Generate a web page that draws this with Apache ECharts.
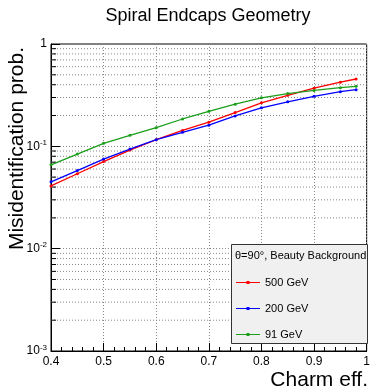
<!DOCTYPE html>
<html>
<head>
<meta charset="utf-8">
<script src="https://cdn.jsdelivr.net/npm/echarts@6/dist/echarts.min.js"></script>
<style>
  html, body { margin: 0; padding: 0; background: #fff; }
  #chart { width: 373px; height: 392px; }
</style>
</head>
<body>
<div id="chart"></div>
<script>
// charm efficiency (x) and misidentification probability for beauty background
const charmEff = [0.40, 0.45, 0.50, 0.55, 0.60, 0.65, 0.70, 0.75, 0.80, 0.85, 0.90, 0.95, 0.98];
const misid500 = [0.041, 0.054, 0.071, 0.092, 0.116, 0.143, 0.172, 0.214, 0.266, 0.315, 0.370, 0.424, 0.455];
const misid200 = [0.045, 0.058, 0.075, 0.094, 0.116, 0.137, 0.161, 0.198, 0.238, 0.272, 0.308, 0.342, 0.358];
const misid91  = [0.066, 0.084, 0.107, 0.128, 0.152, 0.185, 0.220, 0.258, 0.298, 0.328, 0.352, 0.374, 0.386];
const seriesNames = ['500 GeV', '200 GeV', '91 GeV'];
const xTicks = ['0.4', '0.5', '0.6', '0.7', '0.8', '0.9', '1'];

// log minor ticks 2..9 in each decade
const minorY = [];
[0.001, 0.01, 0.1].forEach(d => {
    for (let k = 2; k <= 9; k++) minorY.push(d * k);
});

const font = 'Liberation Sans, Arial, Helvetica, sans-serif';
// line with a small marker in the middle, like the ROOT legend entries
const legendIcon = 'path://M0,3 H48 V5 H0 Z M21,1 H27 V7 H21 Z';

function pairs(ys) {
    return charmEff.map((x, i) => [x, ys[i]]);
}

function lineSeries(name, ys, color) {
    return {
        name: name,
        type: 'line',
        data: pairs(ys),
        symbol: 'circle',
        symbolSize: 3,
        showSymbol: true,
        lineStyle: { color: color, width: 1.3 },
        itemStyle: { color: color },
        z: 5
    };
}

const chart = echarts.init(document.getElementById('chart'), null, { renderer: 'canvas' });

const option = {
    animation: false,
    backgroundColor: '#fff',
    grid: {
        left: 51, right: 5, top: 44, bottom: 41,
        show: true, borderColor: '#000', borderWidth: 1, backgroundColor: 'transparent'
    },
    xAxis: {
        type: 'value',
        min: 0.4, max: 1, interval: 0.1,
        axisLine: { show: true, lineStyle: { color: '#000' } },
        axisTick: { inside: true, length: 8, lineStyle: { color: '#000' } },
        minorTick: { show: true, splitNumber: 5, length: 4, lineStyle: { color: '#000' } },
        splitLine: { show: true, lineStyle: { color: '#888', type: [1, 2] } },
        axisLabel: {
            color: '#000', fontFamily: font, fontSize: 12, margin: 5,
            formatter: v => xTicks[Math.round((v - 0.4) * 10)] || ''
        }
    },
    yAxis: {
        type: 'log', logBase: 10,
        min: 0.001, max: 1,
        axisLine: { show: true, lineStyle: { color: '#000' } },
        axisTick: { inside: true, length: 9, lineStyle: { color: '#000' } },
        splitLine: { show: true, lineStyle: { color: '#888', type: [1, 2] } },
        axisLabel: {
            color: '#000', fontFamily: font, fontSize: 12, margin: 4,
            formatter: v => {
                const e = Math.round(Math.log10(v));
                return e === 0 ? '1' : '10{e|' + e + '}';
            },
            rich: {
                e: { fontSize: 8, fontFamily: font, color: '#000', verticalAlign: 'bottom', padding: [0, 0, 7, 0] }
            }
        }
    },
    legend: {
        orient: 'vertical',
        left: 236, top: 277, padding: 0,
        itemWidth: 24, itemHeight: 6, itemGap: 15,
        icon: legendIcon,
        z: 12,
        data: seriesNames,
        textStyle: { fontFamily: font, fontSize: 11, color: '#000' }
    },
    graphic: [
        {
            type: 'text', x: 208, y: 16,
            style: { text: 'Spiral Endcaps Geometry', fontFamily: font, fontSize: 18, fill: '#000', align: 'center', verticalAlign: 'middle' }
        },
        {
            type: 'text', x: 368, y: 380,
            style: { text: 'Charm eff.', fontFamily: font, fontSize: 21, fill: '#000', align: 'right', verticalAlign: 'middle' }
        },
        {
            type: 'text', x: 17, y: 47, rotation: Math.PI / 2,
            style: { text: 'Misidentification prob.', fontFamily: font, fontSize: 21, fill: '#000', align: 'right', verticalAlign: 'middle' }
        },
        {
            type: 'rect', z: 10,
            shape: { x: 231.5, y: 244.5, width: 136, height: 99 },
            style: { fill: '#f0f0f0', stroke: '#333', lineWidth: 1 }
        },
        {
            type: 'text', z: 11, x: 235, y: 256,
            style: { text: '\u03b8=90\u00b0, Beauty Background', fontFamily: font, fontSize: 11, fill: '#000', verticalAlign: 'middle' }
        }
    ],
    series: [
        {
            type: 'custom',
            silent: true,
            z: 1,
            data: minorY.map(v => [0.4, v]),
            renderItem: function (params, api) {
                const v = api.value(1);
                const p0 = api.coord([0.4, v]);
                const p1 = api.coord([1, v]);
                return {
                    type: 'group',
                    children: [
                        { type: 'line', shape: { x1: p0[0], y1: p0[1], x2: p1[0], y2: p1[1] },
                          style: { stroke: '#888', lineWidth: 1, lineDash: [1, 2] } },
                        { type: 'line', shape: { x1: p0[0], y1: p0[1], x2: p0[0] + 5, y2: p0[1] },
                          style: { stroke: '#000', lineWidth: 1 } }
                    ]
                };
            }
        },
        lineSeries(seriesNames[0], misid500, '#ff0000'),
        lineSeries(seriesNames[1], misid200, '#0000ff'),
        lineSeries(seriesNames[2], misid91, '#1a9e1a')
    ]
};

chart.setOption(option);
</script>
</body>
</html>
